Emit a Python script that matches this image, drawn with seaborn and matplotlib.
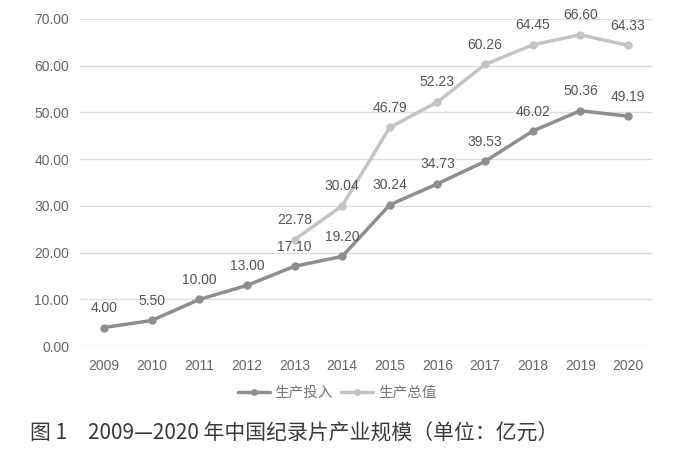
import matplotlib
matplotlib.use("Agg")
import matplotlib.pyplot as plt
import seaborn as sns
import pandas as pd
import numpy as np

years = ["2009", "2010", "2011", "2012", "2013", "2014", "2015", "2016", "2017", "2018", "2019", "2020"]
investment = [4.00, 5.50, 10.00, 13.00, 17.10, 19.20, 30.24, 34.73, 39.53, 46.02, 50.36, 49.19]
total = [np.nan, np.nan, np.nan, np.nan, 22.78, 30.04, 46.79, 52.23, 60.26, 64.45, 66.60, 64.33]
series_names = ["生产投入", "生产总值"]
yticks = [0, 10, 20, 30, 40, 50, 60, 70]

sns.set_theme(style="white")
plt.rcParams['font.family'] = ['Noto Sans CJK SC', 'DejaVu Sans']

df = pd.DataFrame({"year": years * 2,
                   "value": investment + total,
                   "series": [series_names[0]] * 12 + [series_names[1]] * 12})

fig = plt.figure(figsize=(6.74, 4.61), dpi=100)
ax = fig.add_axes([0.119, 0.249, 0.848, 0.71])
colors = {series_names[0]: "#8e8e8e", series_names[1]: "#c4c4c4"}
sns.lineplot(data=df, x="year", y="value", hue="series", palette=colors,
             marker="o", markersize=6, linewidth=2.5, markeredgewidth=0,
             ax=ax, legend=False)

xs = np.arange(len(years))
for vals in (investment, total):
    for x, v in zip(xs, vals):
        if not np.isnan(v):
            ax.annotate(f"{v:.2f}", (x, v), xytext=(0, 9), textcoords="offset points",
                        ha="center", va="bottom", fontsize=10, color="#555555",
                        family=['Liberation Sans', 'DejaVu Sans'])

ax.set_xlim(-0.5, len(years) - 0.5)
ax.set_ylim(0, 70)
ax.set_yticks(yticks)
ax.set_yticklabels([f"{t:.2f}" for t in yticks])
ax.yaxis.grid(True, color="#dddddd", linewidth=1)
for s in ax.spines.values():
    s.set_visible(False)
ax.tick_params(axis="both", length=0, labelsize=10, labelcolor="#666666")
ax.tick_params(axis="x", pad=9)
ax.tick_params(axis="y", pad=8)
for lab in ax.get_xticklabels() + ax.get_yticklabels():
    lab.set_family(['Liberation Sans', 'DejaVu Sans'])
ax.set_xlabel("")
ax.set_ylabel("")

from matplotlib.lines import Line2D
handles = [Line2D([], [], color=colors[n], marker="o", markersize=5, linewidth=2.5,
                  markeredgewidth=0) for n in series_names]
fig.legend(handles, series_names, loc="center", bbox_to_anchor=(0.5, 0.147), ncol=2,
           frameon=False, fontsize=10.5, handlelength=2.2, columnspacing=0.6,
           handletextpad=0.3, labelcolor="#777777")

fig.text(0.045, 0.06, "图 1　2009—2020 年中国纪录片产业规模（单位：亿元）",
         fontsize=15, color="#3a3a3a", ha="left", va="center")

fig.savefig("out.png", dpi=100, facecolor="white")
